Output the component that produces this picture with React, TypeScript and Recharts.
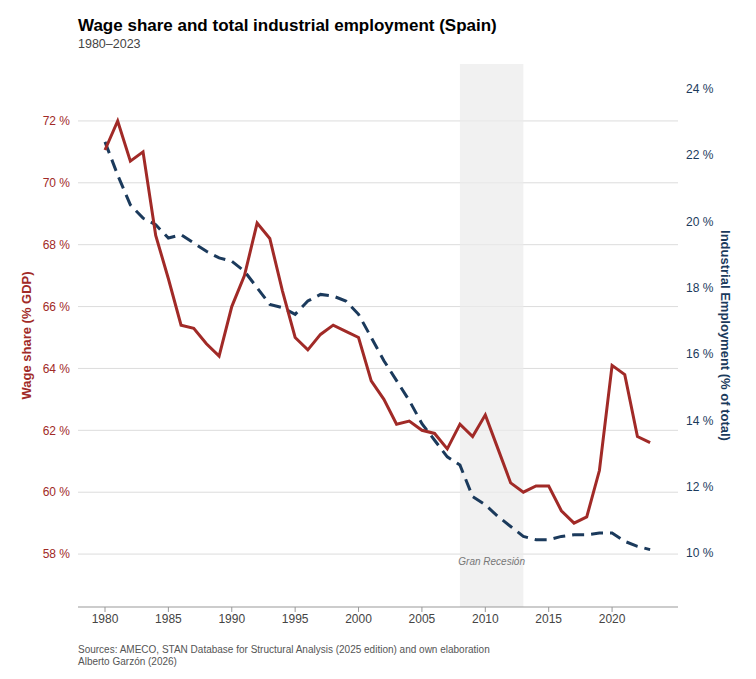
import { ComposedChart, Line, XAxis, YAxis, CartesianGrid, ReferenceArea } from 'recharts';

const years = [
  1980, 1981, 1982, 1983, 1984, 1985, 1986, 1987, 1988, 1989,
  1990, 1991, 1992, 1993, 1994, 1995, 1996, 1997, 1998, 1999,
  2000, 2001, 2002, 2003, 2004, 2005, 2006, 2007, 2008, 2009,
  2010, 2011, 2012, 2013, 2014, 2015, 2016, 2017, 2018, 2019,
  2020, 2021, 2022, 2023,
];
const wageShare = [
  71.06, 72.0, 70.7, 71.0, 68.3, 66.9, 65.4, 65.3, 64.8, 64.4,
  66.0, 67.0, 68.7, 68.2, 66.5, 65.0, 64.6, 65.1, 65.4, 65.2,
  65.0, 63.6, 63.0, 62.2, 62.3, 62.0, 61.9, 61.4, 62.2, 61.8,
  62.5, 61.4, 60.3, 60.0, 60.2, 60.2, 59.4, 59.0, 59.2, 60.7,
  64.1, 63.8, 61.8, 61.6,
];
const industrialEmployment = [
  22.4, 21.4, 20.5, 20.1, 19.9, 19.5, 19.6, 19.35, 19.1, 18.9,
  18.8, 18.5, 18.0, 17.5, 17.4, 17.2, 17.6, 17.8, 17.75, 17.6,
  17.2, 16.5, 15.8, 15.2, 14.6, 13.9, 13.4, 12.9, 12.65, 11.7,
  11.45, 11.1, 10.8, 10.5, 10.4, 10.4, 10.5, 10.55, 10.55, 10.6,
  10.6, 10.35, 10.2, 10.1,
];
const xTicks = [1980, 1985, 1990, 1995, 2000, 2005, 2010, 2015, 2020];
const leftTicks = [58, 60, 62, 64, 66, 68, 70, 72];
const rightTicks = [10, 12, 14, 16, 18, 20, 22, 24];

const RED = '#a12a27';
const NAVY = '#1b3a5c';
const FONT = 'Liberation Sans, Arial, sans-serif';

const data = years.map((y, i) => ({ year: y, wage: wageShare[i], ind: industrialEmployment[i] }));

export default function App() {
  return (
    <div style={{ position: 'absolute', left: 0, top: 0, width: 756, height: 679, fontFamily: FONT, background: '#fff' }}>
      <div style={{ position: 'absolute', left: 78, top: 16, fontSize: 17, fontWeight: 700, color: '#000' }}>
        Wage share and total industrial employment (Spain)
      </div>
      <div style={{ position: 'absolute', left: 78, top: 37, fontSize: 12.5, color: '#444' }}>1980–2023</div>
      <ComposedChart width={756} height={679} data={data} margin={{ top: 64, right: 18, bottom: 42, left: 18 }}>
        <CartesianGrid vertical={false} stroke="#dcdcdc" yAxisId="left" syncWithTicks />
        <ReferenceArea x1={2008} x2={2013} yAxisId="left" fill="#ebebeb" fillOpacity={0.7} stroke="none"
          label={{ value: 'Gran Recesión', position: 'insideBottom', offset: 42, fill: '#777', fontSize: 10, fontStyle: 'italic' }} />
        <XAxis dataKey="year" type="number" domain={[1977.87, 2025.2]} ticks={xTicks} allowDataOverflow
          stroke="#999" tick={{ fill: '#444', fontSize: 12 }} tickSize={5} />
        <YAxis yAxisId="left" domain={[56.29, 73.84]} ticks={leftTicks} allowDataOverflow width={60}
          axisLine={false} tickLine={false} tick={{ fill: RED, fontSize: 12 }} tickFormatter={v => `${v} %`}
          label={{ value: 'Wage share (% GDP)', angle: -90, position: 'insideLeft', offset: 8, fill: RED, fontSize: 13, fontWeight: 700, style: { textAnchor: 'middle' } }} />
        <YAxis yAxisId="right" orientation="right" domain={[8.37, 24.75]} ticks={rightTicks} allowDataOverflow width={60}
          axisLine={false} tickLine={false} tick={{ fill: NAVY, fontSize: 12 }} tickFormatter={v => `${v} %`}
          label={{ value: 'Industrial Employment (% of total)', angle: 90, position: 'insideRight', offset: 12, fill: NAVY, fontSize: 13, fontWeight: 700, style: { textAnchor: 'middle' } }} />
        <Line yAxisId="right" dataKey="ind" stroke={NAVY} strokeWidth={3} strokeDasharray="12 7" dot={false} isAnimationActive={false} />
        <Line yAxisId="left" dataKey="wage" stroke={RED} strokeWidth={3} dot={false} isAnimationActive={false} />
      </ComposedChart>
      <div style={{ position: 'absolute', left: 78, top: 644, fontSize: 10, color: '#555', lineHeight: '12px' }}>
        Sources: AMECO, STAN Database for Structural Analysis (2025 edition) and own elaboration<br />
        Alberto Garzón (2026)
      </div>
    </div>
  );
}
